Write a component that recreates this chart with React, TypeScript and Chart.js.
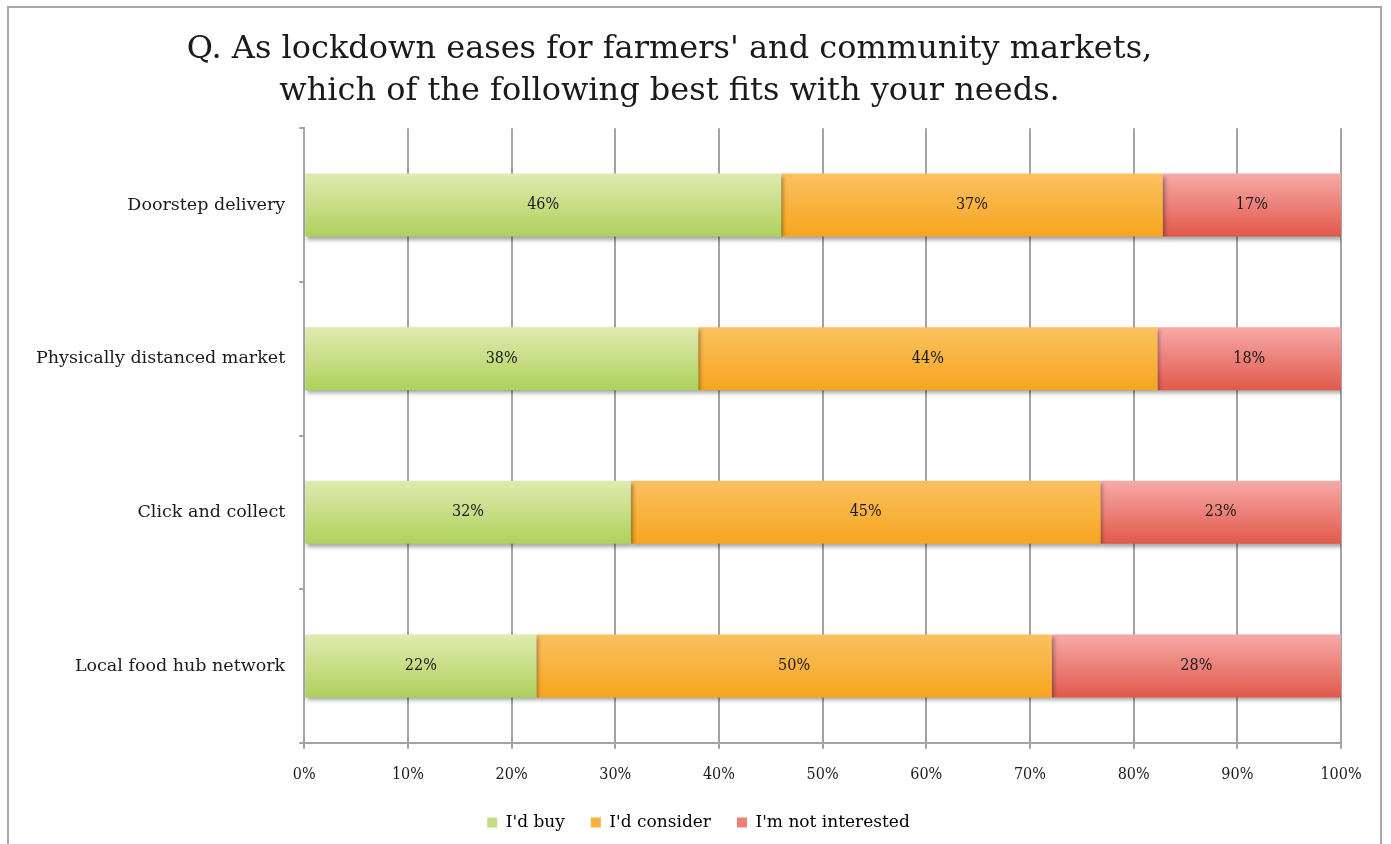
import React, { useEffect, useRef } from "react";
import { Chart, registerables } from "chart.js";

Chart.register(...registerables);

const titleLines = [
  "Q. As lockdown eases for farmers' and community markets,",
  "which of the following best fits with your needs.",
];
const categories = [
  "Doorstep delivery",
  "Physically distanced market",
  "Click and collect",
  "Local food hub network",
];
const seriesNames = ["I'd buy", "I'd consider", "I'm not interested"];
const buyValues = [46.0, 38.0, 31.5, 22.4];
const considerValues = [36.8, 44.3, 45.3, 49.7];
const notInterestedValues = [17.2, 17.7, 23.2, 27.9];
const xTickValues = [0, 10, 20, 30, 40, 50, 60, 70, 80, 90, 100];

const palette = [
  { top: "#e0ebb0", bottom: "#aed15c", mid: "#c3dd82" },
  { top: "#fbc160", bottom: "#f7a51f", mid: "#f9b13d" },
  { top: "#f6aaa8", bottom: "#e2584b", mid: "#ec7f76" },
];

const BAR_PCT = 0.41;
const SERIF = "'DejaVu Serif', serif";
const COND = "'DejaVu Serif Condensed', 'DejaVu Serif', serif";

function gradientFor(c: any, idx: number) {
  const chart = c.chart;
  const ys = chart.scales ? chart.scales.y : null;
  const col = palette[idx];
  if (!ys || c.type !== "data" || !chart.chartArea) return col.mid;
  const cy = ys.getPixelForValue(c.dataIndex);
  const h = (ys.height / categories.length) * BAR_PCT;
  const g = chart.ctx.createLinearGradient(0, cy - h / 2, 0, cy + h / 2);
  g.addColorStop(0, col.top);
  g.addColorStop(1, col.bottom);
  return g;
}

const shadowPlugin = {
  id: "barShadow",
  beforeDatasetsDraw(chart: any) {
    const ctx = chart.ctx;
    ctx.save();
    ctx.shadowColor = "rgba(0,0,0,0.35)";
    ctx.shadowBlur = 4;
    ctx.shadowOffsetX = 2;
    ctx.shadowOffsetY = 3;
  },
  afterDatasetsDraw(chart: any) {
    const ctx = chart.ctx;
    ctx.restore();
    ctx.save();
    ctx.fillStyle = "#1a1a1a";
    ctx.font = `16px ${COND}`;
    ctx.textAlign = "center";
    ctx.textBaseline = "middle";
    chart.data.datasets.forEach((ds: any, di: number) => {
      const meta = chart.getDatasetMeta(di);
      meta.data.forEach((el: any, i: number) => {
        const v = ds.data[i];
        const cx = (el.x + el.base) / 2;
        ctx.fillText(Math.round(v) + "%", cx, el.y);
      });
    });
    ctx.restore();
  },
};

const layoutTweakPlugin = {
  id: "layoutTweak",
  afterLayout(chart: any) {
    if (chart.titleBlock) {
      chart.titleBlock.right = chart.titleBlock.right - 24;
    }
    if (chart.legend) {
      chart.legend.left = chart.legend.left + 17;
      chart.legend.right = chart.legend.right + 17;
    }
  },
};

export default function App() {
  const ref = useRef<HTMLCanvasElement | null>(null);
  useEffect(() => {
    if (!ref.current) return;
    const seriesValues = [buyValues, considerValues, notInterestedValues];
    const chart = new Chart(ref.current, {
      type: "bar",
      data: {
        labels: categories,
        datasets: seriesNames.map((name, i) => ({
          label: name,
          data: seriesValues[i],
          backgroundColor: (c: any) => gradientFor(c, i),
          borderWidth: 0,
          barPercentage: BAR_PCT,
          categoryPercentage: 1,
        })),
      },
      options: {
        indexAxis: "y",
        animation: false,
        responsive: false,
        layout: { padding: { left: 13, right: 39, bottom: 3, top: 0 } },
        scales: {
          x: {
            stacked: true,
            min: 0,
            max: 100,
            afterBuildTicks: (axis: any) => {
              axis.ticks = xTickValues.map((v) => ({ value: v }));
            },
            afterFit: (axis: any) => {
              axis.height = axis.height - 12;
            },
            ticks: {
              callback: (v: any) => v + "%",
              color: "#1a1a1a",
              font: { family: COND, size: 16 },
              padding: 16,
              maxRotation: 0,
            },
            grid: {
              color: "#a3a3a3",
              lineWidth: 2,
              tickLength: 6,
            },
            border: { display: true, color: "#a3a3a3", width: 2 },
          },
          y: {
            stacked: true,
            offset: true,
            ticks: {
              color: "#1a1a1a",
              font: { family: SERIF, size: 17.5 },
              padding: 14,
            },
            grid: {
              offset: true,
              drawOnChartArea: false,
              color: "#a3a3a3",
              lineWidth: 2,
              tickLength: 5,
            },
            border: { display: true, color: "#a3a3a3", width: 2 },
          },
        },
        plugins: {
          title: {
            display: true,
            text: titleLines,
            color: "#1a1a1a",
            font: { family: SERIF, size: 32, weight: "normal", lineHeight: 1.3 },
            padding: { top: 21, bottom: 16 },
          },
          legend: {
            position: "bottom",
            labels: {
              color: "#1a1a1a",
              font: { family: SERIF, size: 17 },
              boxWidth: 10,
              boxHeight: 10,
              padding: 26,
              generateLabels: () =>
                seriesNames.map((name, i) => ({
                  text: name,
                  fillStyle: palette[i].mid,
                  strokeStyle: palette[i].mid,
                  lineWidth: 0,
                  datasetIndex: i,
                  hidden: false,
                })),
            },
          },
          tooltip: { enabled: false },
        },
      },
      plugins: [shadowPlugin, layoutTweakPlugin],
    } as any);
    return () => chart.destroy();
  }, []);

  return (
    <div
      style={{
        position: "absolute",
        left: 7,
        top: 6,
        width: 1375,
        height: 900,
        border: "2px solid #a8a8a8",
        boxSizing: "border-box",
        background: "#fff",
      }}
    >
      <canvas ref={ref} width={1371} height={836} style={{ display: "block" }} />
    </div>
  );
}
